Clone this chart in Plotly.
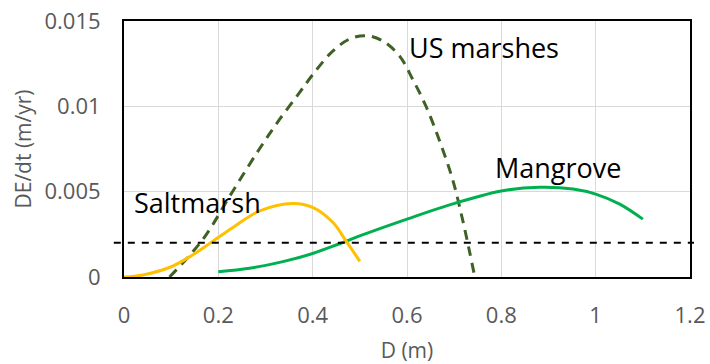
import plotly.graph_objects as go

# Elevation change rate vs depth for three wetland types
saltmarsh_d = [0, 0.04, 0.1, 0.146, 0.182, 0.231, 0.288, 0.358, 0.4, 0.443, 0.471, 0.5]
saltmarsh_rate = [0, 0.00012, 0.0006, 0.0013, 0.00197, 0.0029, 0.00388, 0.00431, 0.00408, 0.00319, 0.0021, 0.00092]

us_marsh_d = [0.0965, 0.167, 0.230, 0.287, 0.329, 0.372, 0.4, 0.442, 0.478, 0.513, 0.548,
              0.584, 0.612, 0.64, 0.668, 0.697, 0.718, 0.732, 0.743]
us_marsh_rate = [0, 0.0022, 0.0050, 0.0075, 0.0092, 0.0108, 0.01185, 0.01322, 0.01394, 0.01414, 0.01384,
                 0.01296, 0.01159, 0.01002, 0.00806, 0.00569, 0.00334, 0.00157, 0.0001]

mangrove_d = [0.2, 0.266, 0.337, 0.4, 0.457, 0.513, 0.6, 0.687, 0.8, 0.881, 0.952, 1.0, 1.051, 1.1]
mangrove_rate = [0.00031, 0.00051, 0.0009, 0.00138, 0.00195, 0.00254, 0.00339, 0.0042, 0.00504, 0.00526,
                 0.00516, 0.00486, 0.00427, 0.00339]

threshold_rate = 0.002

x_ticks = [0, 0.2, 0.4, 0.6, 0.8, 1, 1.2]
x_tick_text = ["0", "0.2", "0.4", "0.6", "0.8", "1", "1.2"]
y_ticks = [0, 0.005, 0.01, 0.015]
y_tick_text = ["0", "0.005", "0.01", "0.015"]

FONT = "Open Sans"
TICK_GRAY = "#595959"

fig = go.Figure()

fig.add_trace(go.Scatter(
    x=us_marsh_d, y=us_marsh_rate, mode="lines", name="US marshes",
    line=dict(color="#3F6125", width=3, dash="10px,7px", shape="spline", smoothing=1.0),
))
fig.add_trace(go.Scatter(
    x=mangrove_d, y=mangrove_rate, mode="lines", name="Mangrove",
    line=dict(color="#00B050", width=3, shape="spline", smoothing=1.0),
))
fig.add_trace(go.Scatter(
    x=saltmarsh_d, y=saltmarsh_rate, mode="lines", name="Saltmarsh",
    line=dict(color="#FFC000", width=3, shape="spline", smoothing=1.0),
))

# horizontal reference line, running slightly past the plot frame
fig.add_shape(
    type="line", xref="paper", yref="y",
    x0=-0.018, x1=1.007, y0=threshold_rate, y1=threshold_rate,
    line=dict(color="black", width=2, dash="7px,7px"),
)

label_font = dict(family=FONT, size=27, color="black")
fig.add_annotation(x=0.018, y=0.00435, text="Saltmarsh", showarrow=False,
                   xanchor="left", yanchor="middle", font=label_font)
fig.add_annotation(x=0.601, y=0.01345, text="US marshes", showarrow=False,
                   xanchor="left", yanchor="middle", font=label_font)
fig.add_annotation(x=0.782, y=0.0064, text="Mangrove", showarrow=False,
                   xanchor="left", yanchor="middle", font=label_font)

axis_common = dict(
    showgrid=True, gridcolor="#D9D9D9", gridwidth=1,
    showline=True, linecolor="black", linewidth=2, mirror=True,
    zeroline=False, ticks="", automargin=False,
    tickfont=dict(family=FONT, size=22, color=TICK_GRAY),
)

fig.update_xaxes(
    range=[0, 1.2], tickvals=x_ticks, ticktext=x_tick_text,
    title=dict(text="D (m)", font=dict(family=FONT, size=21, color=TICK_GRAY), standoff=15),
    ticklabelstandoff=18,
    **axis_common,
)
fig.update_yaxes(
    range=[0, 0.015], tickvals=y_ticks, ticktext=y_tick_text,
    title=dict(text="DE/dt (m/yr)", font=dict(family=FONT, size=21, color=TICK_GRAY), standoff=7),
    ticklabelstandoff=17,
    **axis_common,
)

fig.update_layout(
    width=710, height=364,
    margin=dict(l=124, r=20, t=21, b=87),
    paper_bgcolor="white", plot_bgcolor="white",
    showlegend=False,
    font=dict(family=FONT),
)

fig.write_html("out.html")
